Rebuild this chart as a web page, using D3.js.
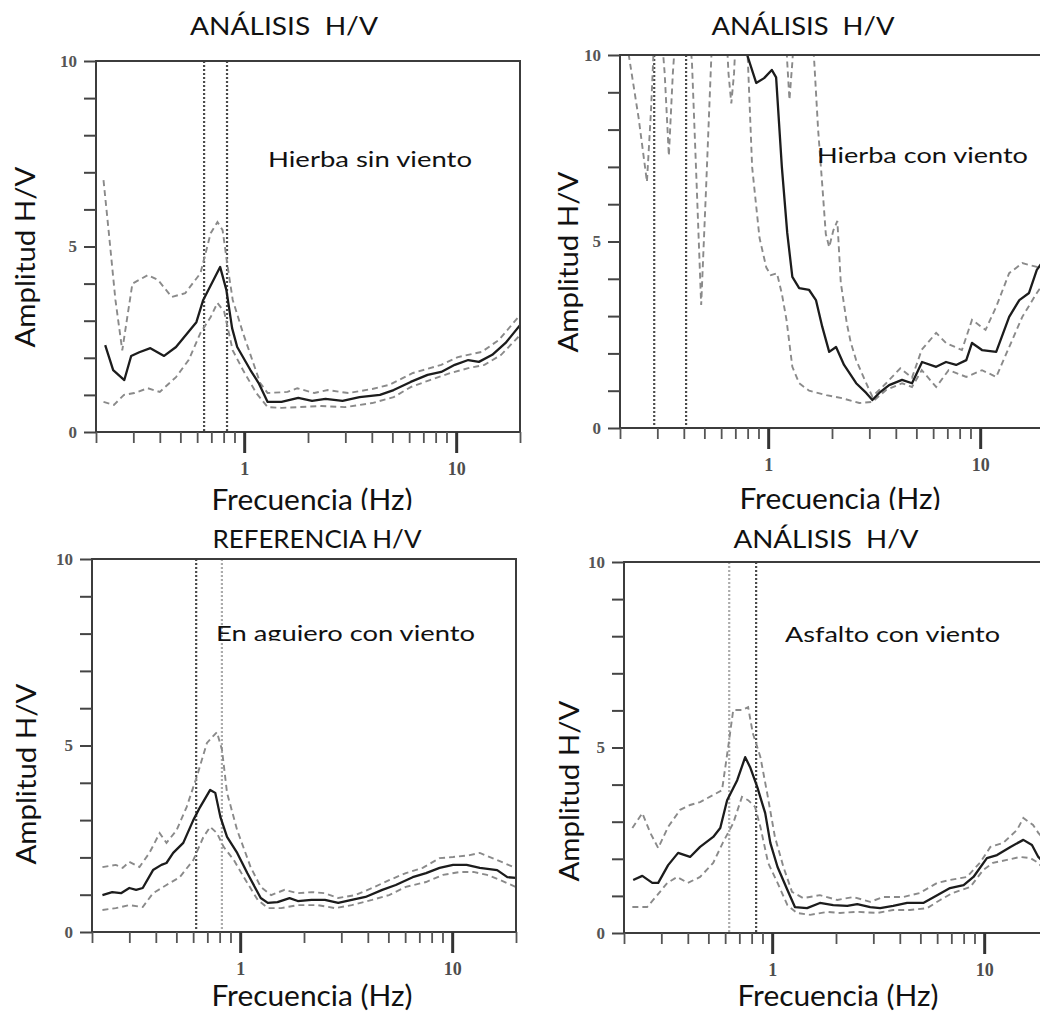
<!DOCTYPE html>
<html><head><meta charset="utf-8">
<script src="https://cdn.jsdelivr.net/npm/d3@7"></script>
<style>body{margin:0;background:#fff}</style>
</head><body><svg id="c" width="1040" height="1013"></svg>
<script>
// ---------- data ----------
const xMinorTicks = [0.2,0.3,0.4,0.5,0.6,0.7,0.8,0.9,2,3,4,5,6,7,8,9,20];
const xMajorTicks = [1,10];
const xMajorLabels = ["1","10"];
const yTicks = [0,1,2,3,4,5,6,7,8,9,10];
const yLabelTicks = [0,5,10];

const titles = ["ANÁLISIS  H/V","ANÁLISIS  H/V","REFERENCIA H/V","ANÁLISIS  H/V"];
const notes = ["Hierba sin viento","Hierba con viento","En aguiero con viento","Asfalto con viento"];
const xTitle = "Frecuencia (Hz)";
const yTitle = "Amplitud H/V";

// Panel 1: Hierba sin viento
const p1Mean = [[0.221,2.34],[0.241,1.67],[0.272,1.40],[0.293,2.05],[0.32,2.15],[0.361,2.26],[0.419,2.05],[0.477,2.29],[0.595,2.96],[0.641,3.56],[0.77,4.45],[0.824,3.83],[0.877,2.80],[0.927,2.29],[1.07,1.67],[1.17,1.32],[1.29,0.81],[1.50,0.81],[1.80,0.92],[2.09,0.84],[2.42,0.89],[2.91,0.84],[3.50,0.94],[4.37,1.0],[5.07,1.13],[6.10,1.35],[7.33,1.54],[8.5,1.62],[9.85,1.81],[11.4,1.94],[12.8,1.89],[14.8,2.08],[17.1,2.40],[20,2.88]];
const p1Upper = [[0.217,6.79],[0.23,5.36],[0.247,3.56],[0.266,2.2],[0.281,3.1],[0.297,4.0],[0.351,4.23],[0.392,4.1],[0.455,3.64],[0.527,3.74],[0.622,4.28],[0.695,5.36],[0.748,5.66],[0.791,5.44],[0.836,4.45],[0.883,3.56],[0.987,2.67],[1.19,1.32],[1.29,1.05],[1.60,1.08],[1.78,1.18],[2.14,1.05],[2.48,1.13],[3.10,1.05],[4.02,1.16],[4.83,1.27],[6.25,1.59],[8.5,1.81],[10.2,2.02],[13.2,2.16],[15.9,2.48],[20,3.15]];
const p1Lower = [[0.217,0.81],[0.243,0.73],[0.271,1.0],[0.303,1.05],[0.351,1.18],[0.40,1.08],[0.477,1.48],[0.547,1.94],[0.622,2.67],[0.695,3.10],[0.748,3.48],[0.805,3.24],[0.883,2.2],[0.987,1.67],[1.14,1.05],[1.29,0.67],[1.50,0.65],[1.80,0.67],[2.31,0.70],[2.99,0.67],[4.02,0.78],[5.07,0.94],[6.10,1.21],[7.52,1.40],[9.4,1.59],[11.4,1.72],[13.6,1.81],[16.3,2.08],[20,2.61]];
const p1Markers = [0.647,0.83];

// Panel 2: Hierba con viento
const p2Mean = [[0.75,11],[0.796,10.0],[0.878,9.25],[0.957,9.38],[1.04,9.6],[1.09,9.4],[1.16,7.0],[1.23,5.23],[1.30,4.05],[1.40,3.75],[1.56,3.70],[1.68,3.43],[1.80,2.71],[1.94,2.04],[2.09,2.17],[2.28,1.69],[2.60,1.20],[2.90,0.94],[3.10,0.75],[3.34,0.94],[3.72,1.15],[4.28,1.29],[4.77,1.20],[5.32,1.77],[6.2,1.64],[6.9,1.77],[7.7,1.69],[8.6,1.82],[9.15,2.28],[10.2,2.09],[11.9,2.04],[13.7,2.98],[15.3,3.43],[17.0,3.62],[18.5,4.24],[20,4.5]];
const p2Upper = [[0.2,11],[0.31,11],[0.325,9.5],[0.34,7.3],[0.355,9.5],[0.37,11],[0.63,11],[0.65,9.5],[0.67,8.7],[0.69,9.5],[0.71,11],[1.2,11],[1.23,9.8],[1.26,8.8],[1.30,9.8],[1.34,11],[1.6,11],[1.65,9.8],[1.72,8.0],[1.8,6.5],[1.87,5.2],[1.94,4.85],[2.03,5.3],[2.12,5.55],[2.2,3.9],[2.35,2.8],[2.45,2.3],[2.6,1.82],[2.9,1.2],[3.1,0.84],[3.6,1.2],[4.2,1.6],[4.77,1.35],[5.3,2.1],[6.2,2.55],[6.9,2.28],[8.2,2.09],[9.15,2.9],[10.6,2.63],[11.9,3.25],[13.7,4.15],[15.8,4.42],[18.5,4.32],[20,4.2]];
const p2Lower = [[0.2,10.8],[0.22,10],[0.245,8.3],[0.268,6.6],[0.28,8.5],[0.29,10.5],[0.3,11],[0.42,11],[0.437,9.8],[0.46,6.5],[0.483,3.3],[0.51,6.5],[0.538,9.8],[0.55,11],[0.77,11],[0.80,10],[0.84,7.0],[0.91,5.1],[0.98,4.3],[1.03,4.1],[1.1,4.15],[1.16,3.6],[1.22,2.9],[1.30,1.64],[1.40,1.2],[1.56,1.0],[1.88,0.88],[2.23,0.8],[2.69,0.67],[3.1,0.70],[3.6,1.02],[4.28,1.2],[4.77,1.1],[5.3,1.55],[6.2,1.1],[7.1,1.55],[8.6,1.37],[10.2,1.55],[11.9,1.37],[13.7,2.17],[15.8,2.98],[18.5,3.62],[20,3.9]];
const p2Markers = [0.29,0.41];

// Panel 3: En aguiero con viento
const p3Mean = [[0.224,0.99],[0.249,1.07],[0.274,1.04],[0.30,1.18],[0.323,1.13],[0.347,1.18],[0.388,1.66],[0.425,1.80],[0.449,1.85],[0.483,2.12],[0.539,2.39],[0.601,3.0],[0.647,3.35],[0.722,3.81],[0.763,3.73],[0.807,3.08],[0.867,2.55],[0.968,2.12],[1.08,1.58],[1.25,0.91],[1.35,0.78],[1.50,0.80],[1.71,0.91],[1.87,0.83],[2.17,0.86],[2.51,0.86],[2.90,0.78],[3.36,0.86],[3.90,0.94],[4.68,1.13],[5.42,1.26],[6.51,1.47],[7.53,1.58],[8.72,1.72],[10.1,1.80],[11.7,1.80],[13.5,1.72],[16.3,1.66],[18.2,1.47],[20,1.45]];
const p3Upper = [[0.224,1.74],[0.259,1.80],[0.279,1.72],[0.30,1.88],[0.335,1.74],[0.373,2.12],[0.417,2.65],[0.449,2.39],[0.501,2.73],[0.559,3.35],[0.624,4.16],[0.697,5.07],[0.777,5.36],[0.821,4.88],[0.867,3.73],[0.968,2.73],[1.12,1.74],[1.25,1.21],[1.40,0.99],[1.62,1.13],[1.87,1.04],[2.17,1.07],[2.51,1.04],[2.90,0.91],[3.49,0.99],[4.19,1.18],[5.04,1.39],[6.05,1.58],[7.26,1.72],[8.72,1.98],[10.1,2.01],[12.1,2.06],[13.5,2.12],[16.3,1.93],[19.5,1.74],[20,1.72]];
const p3Lower = [[0.224,0.59],[0.259,0.64],[0.30,0.72],[0.347,0.67],[0.388,1.04],[0.449,1.26],[0.519,1.47],[0.601,1.93],[0.671,2.55],[0.722,2.82],[0.777,2.65],[0.836,2.28],[0.933,1.93],[1.04,1.47],[1.21,0.86],[1.35,0.64],[1.56,0.64],[1.87,0.72],[2.33,0.72],[2.80,0.64],[3.36,0.72],[4.19,0.86],[5.04,0.99],[6.05,1.21],[7.53,1.34],[9.05,1.53],[10.9,1.61],[12.6,1.61],[14.6,1.53],[16.9,1.39],[19.9,1.21]];
const p3Markers = [0.62,0.82];

// Panel 4: Asfalto con viento
const p4Mean = [[0.221,1.43],[0.244,1.54],[0.272,1.35],[0.29,1.35],[0.323,1.83],[0.36,2.16],[0.41,2.05],[0.457,2.32],[0.527,2.59],[0.569,2.83],[0.613,3.58],[0.684,4.12],[0.746,4.74],[0.787,4.47],[0.85,3.94],[0.927,3.23],[0.98,2.43],[1.06,1.78],[1.18,1.16],[1.28,0.70],[1.46,0.67],[1.68,0.81],[1.94,0.75],[2.26,0.73],[2.52,0.78],[2.9,0.70],[3.23,0.67],[3.72,0.73],[4.33,0.81],[5.16,0.81],[6.0,1.02],[6.9,1.21],[8.0,1.29],[8.9,1.51],[10.3,2.02],[11.5,2.10],[13.3,2.32],[15.3,2.51],[16.8,2.37],[18,2.05],[20,1.8]];
const p4Upper = [[0.219,2.83],[0.244,3.23],[0.266,2.70],[0.29,2.29],[0.323,2.86],[0.368,3.32],[0.41,3.45],[0.457,3.53],[0.527,3.72],[0.58,3.85],[0.62,5.01],[0.655,6.01],[0.72,6.01],[0.77,6.09],[0.81,5.39],[0.88,4.74],[0.947,3.77],[1.03,2.59],[1.13,1.78],[1.24,1.11],[1.40,0.94],[1.68,1.02],[2.03,0.89],[2.41,0.97],[2.9,0.84],[3.34,0.97],[4.15,0.97],[4.98,1.08],[6.0,1.35],[6.9,1.43],[8.3,1.51],[9.6,1.91],[10.7,2.32],[12.3,2.43],[14.3,2.78],[15.3,3.10],[17.0,2.91],[18,2.70],[20,2.4]];
const p4Lower = [[0.219,0.70],[0.257,0.70],[0.287,1.02],[0.32,1.35],[0.356,1.51],[0.40,1.35],[0.457,1.51],[0.527,1.89],[0.587,2.45],[0.655,2.96],[0.72,3.67],[0.77,3.58],[0.83,3.40],[0.88,2.86],[0.957,1.89],[1.06,1.35],[1.18,0.75],[1.31,0.54],[1.51,0.49],[1.82,0.57],[2.09,0.54],[2.52,0.57],[3.13,0.54],[3.72,0.62],[4.47,0.62],[5.38,0.67],[6.2,0.89],[7.1,1.08],[8.6,1.24],[9.9,1.70],[11.0,1.89],[12.8,1.97],[14.8,2.05],[16.5,2.02],[18,1.89],[20,1.6]];
const p4Markers = [0.627,0.84];

// ---------- layout ----------
const DARK = "#4a4a4a", LIGHT = "#ababab";
const panels = [
  {left:96, top:61, bottom:432, mean:p1Mean, upper:p1Upper, lower:p1Lower, markers:p1Markers, mshade:[DARK,DARK],
   title:[284,35,188], xt:[312,510], yt:[35,257], note:[268,167,204], noteClip:null},
  {left:620, top:55, bottom:428, mean:p2Mean, upper:p2Upper, lower:p2Lower, markers:p2Markers, mshade:[DARK,DARK],
   title:[803,35,183], xt:[840,509], yt:[578,262], note:[817,163,211], noteClip:null},
  {left:92, top:559, bottom:932, mean:p3Mean, upper:p3Upper, lower:p3Lower, markers:p3Markers, mshade:[DARK,LIGHT],
   title:[317,548,209], xt:[312,1006], yt:[36,774], note:[216,641,259], noteClip:641},
  {left:624, top:562, bottom:933, mean:p4Mean, upper:p4Upper, lower:p4Lower, markers:p4Markers, mshade:[LIGHT,DARK],
   title:[826,548,185], xt:[838,1006], yt:[579,791], note:[785,642,215], noteClip:null}
];
const W = 424;
const SANS = "Lato, 'Open Sans', 'DejaVu Sans', sans-serif";
const SERIF = "'Liberation Serif', 'DejaVu Serif', serif";

const svg = d3.select('#c');
svg.append('rect').attr('width',1040).attr('height',1013).attr('fill','#fff');
const defs = svg.append('defs');

function drawPanel(p, i) {
  const x = d3.scaleLog().domain([0.2,20]).range([p.left, p.left + W]);
  const y = d3.scaleLinear().domain([0,10]).range([p.bottom, p.top]);
  const g = svg.append('g');
  const cid = 'clip' + i;
  defs.append('clipPath').attr('id', cid).append('rect')
    .attr('x', p.left).attr('y', p.top).attr('width', W).attr('height', p.bottom - p.top);
  const plot = g.append('g').attr('clip-path', `url(#${cid})`);

  p.markers.forEach((f,k) => {
    plot.append('line').attr('x1', x(f)).attr('x2', x(f)).attr('y1', p.top).attr('y2', p.bottom)
      .attr('stroke', p.mshade[k]).attr('stroke-width', 2.2).attr('stroke-dasharray', '2,2');
  });
  const line = d3.line().x(d => x(d[0])).y(d => y(d[1]));
  [p.upper, p.lower].forEach(s => {
    plot.append('path').attr('d', line(s)).attr('fill','none')
      .attr('stroke','#8a8a8a').attr('stroke-width',1.9).attr('stroke-dasharray','6,4');
  });
  plot.append('path').attr('d', line(p.mean)).attr('fill','none')
    .attr('stroke','#1c1c1c').attr('stroke-width',2.3).attr('stroke-linejoin','round');

  // frame
  g.append('rect').attr('x', p.left).attr('y', p.top).attr('width', W).attr('height', p.bottom - p.top)
    .attr('fill','none').attr('stroke','#3c3c3c').attr('stroke-width',2);

  // x axis minor
  const axMinor = g.append('g').attr('transform', `translate(0,${p.bottom})`)
    .call(d3.axisBottom(x).tickValues(xMinorTicks).tickSize(11).tickFormat(''));
  axMinor.select('.domain').remove();
  axMinor.selectAll('line').attr('stroke','#555').attr('stroke-width',1.8);
  // x axis major
  const axMajor = g.append('g').attr('transform', `translate(0,${p.bottom})`)
    .call(d3.axisBottom(x).tickValues(xMajorTicks).tickSize(21).tickFormat((d,k) => xMajorLabels[k]));
  axMajor.select('.domain').remove();
  axMajor.selectAll('line').attr('stroke','#333').attr('stroke-width',3);
  axMajor.selectAll('text').attr('y', 43).attr('dy', 0)
    .attr('font-family', SERIF).attr('font-weight','bold').attr('font-size', 18).attr('fill','#4d4d4d');

  // y axis
  const ay = g.append('g').attr('transform', `translate(${p.left},0)`)
    .call(d3.axisLeft(y).tickValues(yTicks).tickSize(12).tickPadding(7)
      .tickFormat(d => yLabelTicks.includes(d) ? String(d) : ''));
  ay.select('.domain').remove();
  ay.selectAll('line').attr('stroke','#444').attr('stroke-width',2);
  ay.selectAll('text').attr('font-family', SERIF).attr('font-weight','bold')
    .attr('font-size', 17).attr('fill','#555');

  // texts
  g.append('text').attr('x', p.title[0]).attr('y', p.title[1]).attr('text-anchor','middle')
    .attr('font-family', SANS).attr('font-size', 25).attr('fill','#111')
    .attr('textLength', p.title[2]).attr('lengthAdjust','spacingAndGlyphs')
    .style('white-space','pre').text(titles[i]);
  g.append('text').attr('x', p.xt[0]).attr('y', p.xt[1]).attr('text-anchor','middle')
    .attr('font-family', SANS).attr('font-size', 28).attr('fill','#111')
    .attr('textLength', 201).attr('lengthAdjust','spacingAndGlyphs').text(xTitle);
  g.append('text').attr('transform', `translate(${p.yt[0]},${p.yt[1]}) rotate(-90)`).attr('text-anchor','middle')
    .attr('font-family', SANS).attr('font-size', 26).attr('fill','#111')
    .attr('textLength', 181).attr('lengthAdjust','spacingAndGlyphs').text(yTitle);
  const note = g.append('text').attr('x', p.note[0]).attr('y', p.note[1])
    .attr('font-family', SANS).attr('font-size', 22).attr('fill','#111')
    .attr('textLength', p.note[2]).attr('lengthAdjust','spacingAndGlyphs').text(notes[i]);
  if (p.noteClip) {
    const nid = 'nclip' + i;
    defs.append('clipPath').attr('id', nid).append('rect')
      .attr('x', 0).attr('y', 0).attr('width', 1040).attr('height', p.noteClip);
    note.attr('clip-path', `url(#${nid})`);
  }
}

drawPanel(panels[0], 0);
drawPanel(panels[1], 1);
// lower images overlap the bottom of the upper axis titles
svg.append('rect').attr('x',0).attr('y',510).attr('width',1040).attr('height',503).attr('fill','#fff');
drawPanel(panels[2], 2);
drawPanel(panels[3], 3);
</script>
</body></html>
